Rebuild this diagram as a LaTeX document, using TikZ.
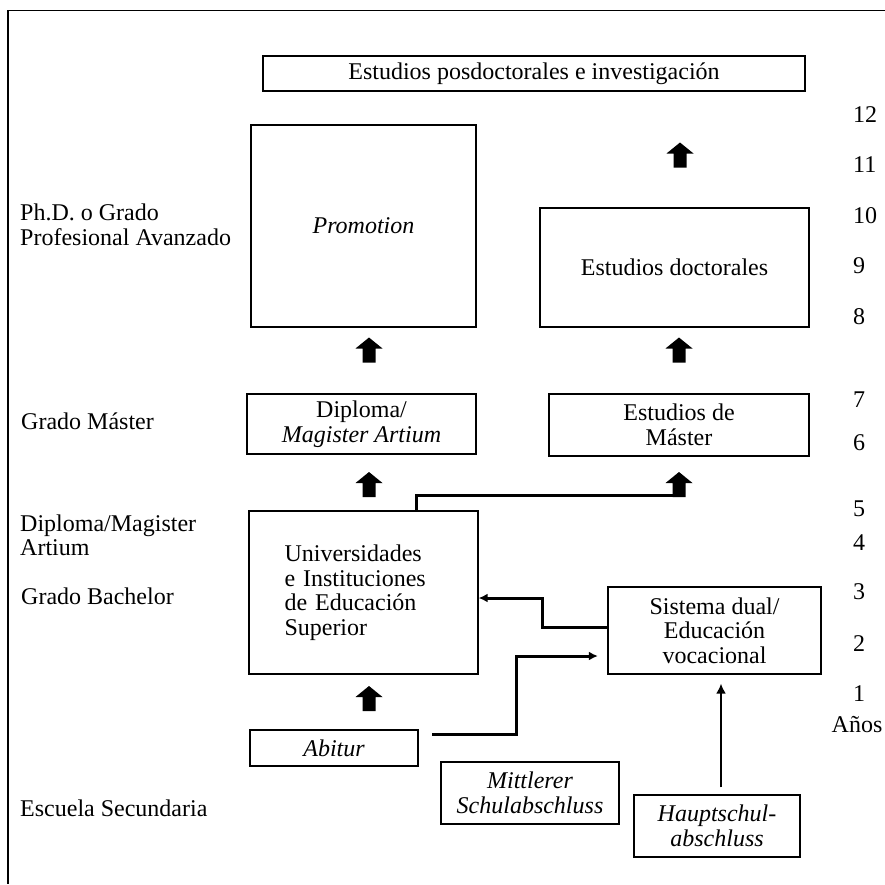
\documentclass[tikz,border=0pt]{standalone}
\usepackage{fontspec}
\setmainfont{Liberation Serif}
\usetikzlibrary{arrows.meta}
\begin{document}
\begin{tikzpicture}[x=1pt,y=-1pt,
  font=\fontsize{24}{24.5}\selectfont,
  box/.style={draw, line width=1.3pt, inner sep=0pt, align=center},
  lab/.style={anchor=west, align=left, inner sep=0pt},
  yr/.style={anchor=west, inner sep=0pt},
  thickconn/.style={line width=3pt, -{Latex[length=9pt,width=9pt]}},
  thinconn/.style={line width=1.8pt, -{Latex[length=10pt,width=10pt]}},
  bigup/.pic={\fill (-6.5,12.5) -- (-6.5,-1.5) -- (-13.5,-1.5) -- (0,-12.5) -- (13.5,-1.5) -- (6.5,-1.5) -- (6.5,12.5) -- cycle;}
]
\useasboundingbox (0,0) rectangle (885,884);
% frame (only top and left visible)
\draw[line width=1.6pt] (885,10.5) -- (8,10.5) -- (8,884);

% boxes
\node[box, minimum width=542pt, minimum height=35pt] (posdoc) at (534,73.5) {Estudios posdoctorales e investigación};
\node[box, minimum width=225pt, minimum height=202pt] (promo) at (363.5,226) {\itshape Promotion};
\node[box, minimum width=269pt, minimum height=119pt] (doct) at (674.5,267.5) {Estudios doctorales};
\node[box, minimum width=229pt, minimum height=60pt] (dipl) at (361.5,424) {Diploma/\\\itshape Magister Artium};
\node[box, minimum width=260pt, minimum height=62pt] (mast) at (679,425) {Estudios de\\Máster};
\node[box, minimum width=229pt, minimum height=163pt, align=left, text width=158pt] (uni) at (363.5,592.5) {Universidades\\e Instituciones\\de Educación\\Superior};
\node[box, minimum width=213pt, minimum height=87pt] (sist) at (714.5,630.5) {Sistema dual/\\Educación\\vocacional};
\node[box, minimum width=168pt, minimum height=36pt] (abit) at (334,748) {\itshape Abitur};
\node[box, minimum width=178pt, minimum height=62pt] (mitt) at (530,793) {\itshape Mittlerer\\\itshape Schulabschluss};
\node[box, minimum width=166pt, minimum height=62pt] (haupt) at (717,826) {\itshape Hauptschul-\\\itshape abschluss};

% left labels
\node[lab] (l1) at (20,225) {Ph.D. o Grado\\Profesional Avanzado};
\node[lab] (l2) at (21,421) {Grado Máster};
\node[lab] (l3) at (20,535.5) {Diploma/Magister\\Artium};
\node[lab] (l4) at (21,596) {Grado Bachelor};
\node[lab] (l5) at (20,808) {Escuela Secundaria};

% years
\node[yr] (y12) at (853,115) {12};
\node[yr] (y11) at (853,165) {11};
\node[yr] (y10) at (853,216) {10};
\node[yr] (y9) at (853,266) {9};
\node[yr] (y8) at (853,317) {8};
\node[yr] (y7) at (853,400) {7};
\node[yr] (y6) at (853,443) {6};
\node[yr] (y5) at (853,509) {5};
\node[yr] (y4) at (853,543) {4};
\node[yr] (y3) at (853,592) {3};
\node[yr] (y2) at (853,644) {2};
\node[yr] (y1) at (853,694) {1};
\node[inner sep=0pt] (anos) at (857,725) {Años};

% connectors
\coordinate (ux) at (416,0);
\coordinate (a5b) at (679,495);
\draw[line width=3pt] (ux |- uni.north) |- (a5b);

\coordinate (c1) at (542,598);
\draw[thickconn] ([yshift=3.5pt]sist.west) -| (c1) -- ([yshift=-5.5pt]uni.east);

\coordinate (abs) at (432,734);
\coordinate (c2) at (516,656);
\draw[thickconn] (abs) -| (c2) -- ([xshift=-9.5pt,yshift=-25.5pt]sist.west);

\draw[thinconn] ([xshift=4pt,yshift=7pt]haupt.north) -- ([xshift=6.5pt,yshift=-9pt]sist.south);

% block arrows
\pic at (680,155) {bigup};
\pic at (369,350) {bigup};
\pic at (679,350) {bigup};
\pic at (369,484.5) {bigup};
\pic at (679,484.5) {bigup};
\pic at (369,698.5) {bigup};
\end{tikzpicture}
\end{document}
